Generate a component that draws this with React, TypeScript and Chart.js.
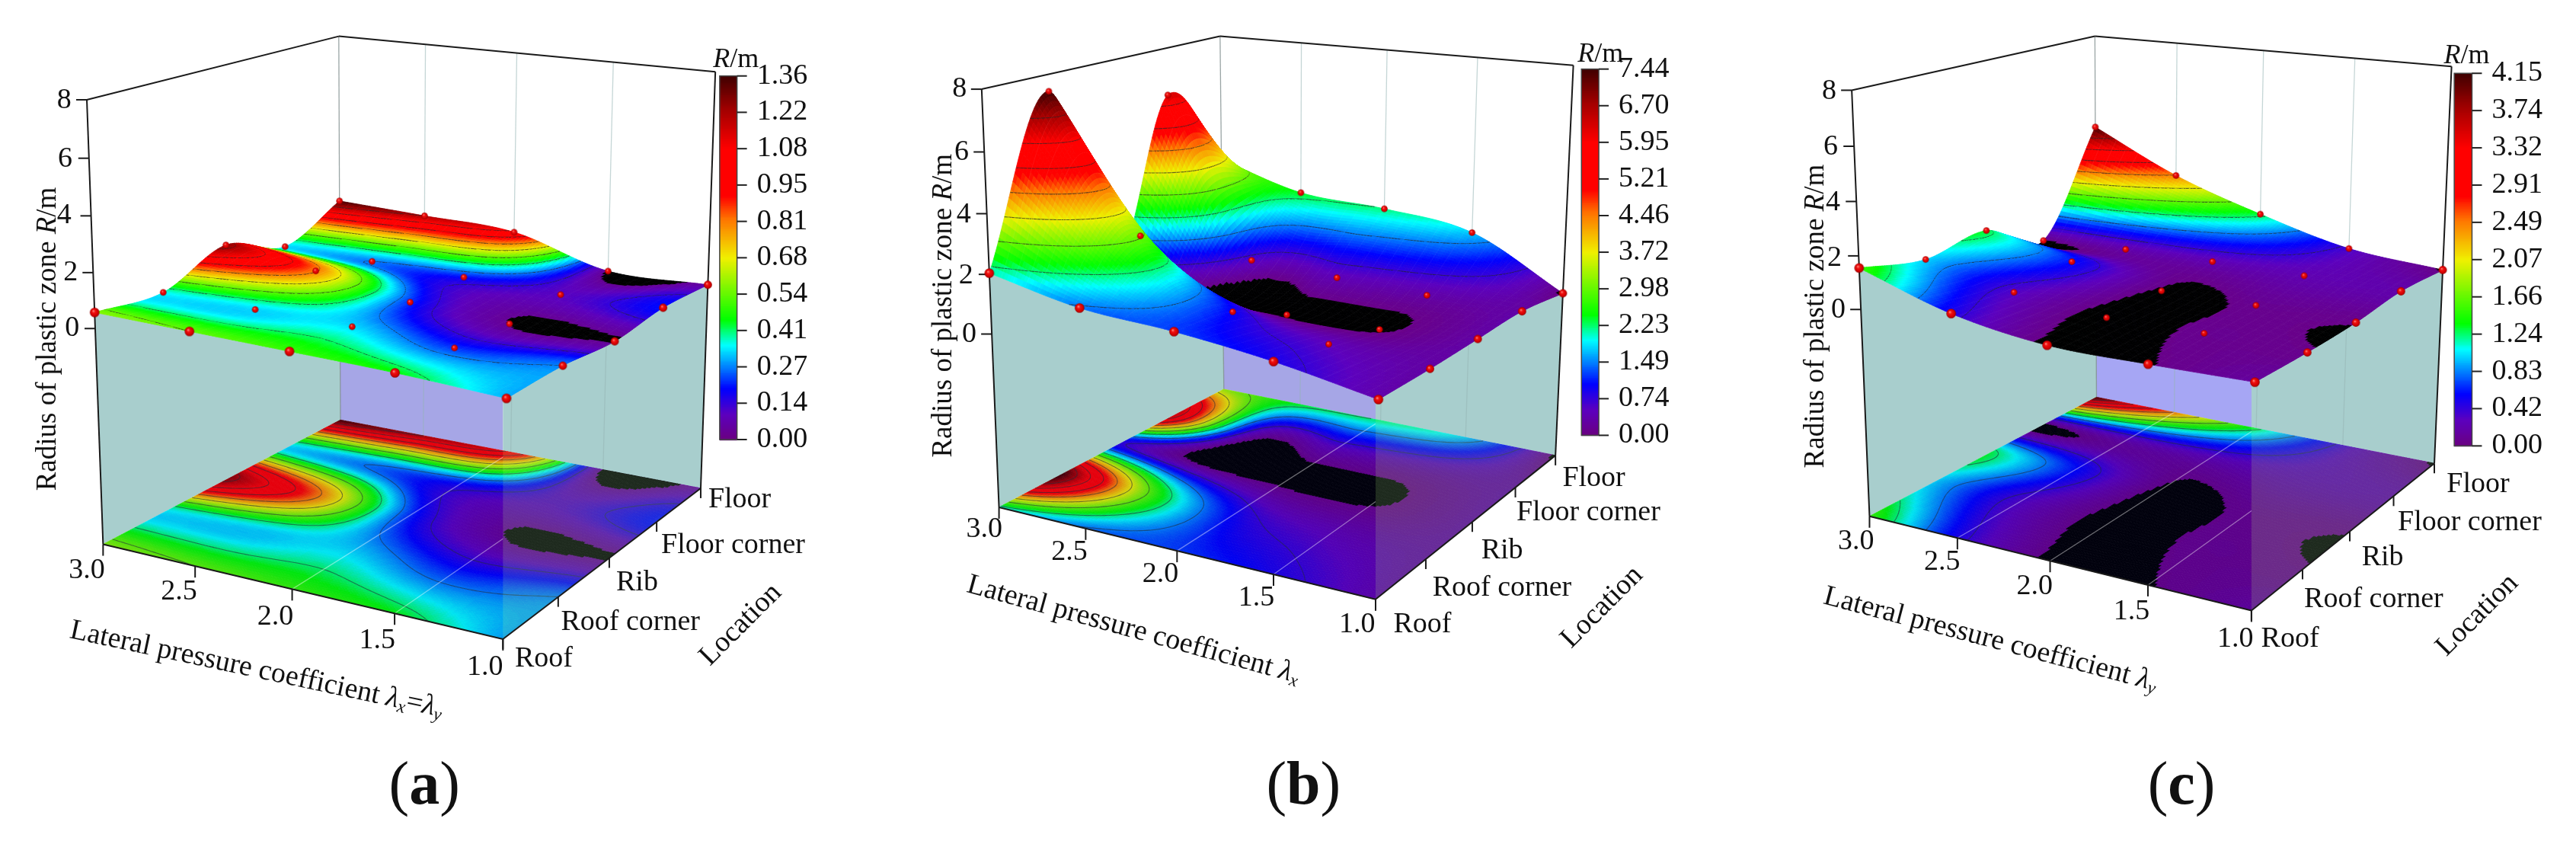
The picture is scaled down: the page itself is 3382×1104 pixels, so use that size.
import React, { useEffect, useRef } from "react";
import { Chart, registerables } from "chart.js";
Chart.register(...registerables);

const lambdaValues = [3.0, 2.5, 2.0, 1.5, 1.0];
const lambdaLabels = ["3.0", "2.5", "2.0", "1.5", "1.0"];
const locationLabels = ["Roof", "Roof corner", "Rib", "Floor corner", "Floor"];
const radiusTicks = ["8", "6", "4", "2", "0"];

// R (m) per location, columns follow lambdaValues
const a_roof = [0.58, 0.54, 0.5, 0.45, 0.3];
const a_roofCorner = [0.36, 0.33, 0.33, 0.22, 0.27];
const a_rib = [1.26, 0.82, 0.22, 0.032, 0.03];
const a_floorCorner = [0.33, 0.27, 0.2, 0.1, 0.2];
const a_floor = [1.36, 1.22, 1.05, 0.03, 0.05];

const b_roof = [2.04, 1.44, 1.25, 0.9, 0.35];
const b_roofCorner = [7.44, 3.03, 1.0, 0.5, 0.3];
const b_rib = [0.8, 0.0, 0.0, 0.05, 0.3];
const b_floorCorner = [6.3, 0.6, 0.45, 0.33, 0.3];
const b_floor = [3.3, 2.4, 2.2, 1.75, 0.02];

const c_roof = [1.55, 0.5, 0.02, 0.045, 0.14];
const c_roofCorner = [1.0, 0.33, 0.0, 0.072, 0.056];
const c_rib = [1.3, 0.6, 0.03, 0.078, 0.056];
const c_floorCorner = [0.04, 0.2, 0.24, 0.23, 0.2];
const c_floor = [4.15, 2.48, 1.3, 0.37, 0.03];

const a_colorTicks = ["1.36", "1.22", "1.08", "0.95", "0.81", "0.68", "0.54", "0.41", "0.27", "0.14", "0.00"];
const b_colorTicks = ["7.44", "6.70", "5.95", "5.21", "4.46", "3.72", "2.98", "2.23", "1.49", "0.74", "0.00"];
const c_colorTicks = ["4.15", "3.74", "3.32", "2.91", "2.49", "2.07", "1.66", "1.24", "0.83", "0.42", "0.00"];

type P2 = [number, number];
type Seg = { t: string; i?: boolean; b?: boolean; sub?: boolean };

const lam: Seg = { t: "\u03bb", i: true };
const rm: Seg[] = [{ t: "R", i: true }, { t: "/m" }];

const panels: any[] = [
  {
    left: 0, width: 1130, viewW: 1568, viewH: 1568, tag: "a",
    grid: [a_roof, a_roofCorner, a_rib, a_floorCorner, a_floor], ticks: a_colorTicks,
    zMin: -8, blackBelow: 0.034, hidden: [], floorLines: [2, 3],
    L: [180, 1018], F: [918, 1197], B: [618, 783], R: [1283, 912],
    LT: [150, 178], FT: [931, 295], BT: [615, 58], RT: [1310, 125],
    bar: [1318, 133, 1350, 820], rm: [1348, 103],
    lamPos: [[150, 1068], [320, 1108], [498, 1155], [686, 1200], [885, 1250]],
    locPos: [[940, 1235], [1025, 1165], [1127, 1090], [1210, 1020], [1297, 933]],
    zPos: [[108, 180], [110, 290], [108, 397], [120, 505], [123, 610]],
    zTitle: [78, 630], xTitle: [463, 1255, 12.0], locTitle: [1357, 1170],
    xSegs: [{ t: "Lateral pressure coefficient " }, lam, { t: "x", i: true, sub: true }, { t: "=" }, lam, { t: "y", i: true, sub: true }],
    cap: [773, 1478], lav: "#a6a6e6",
  },
  {
    left: 1130, width: 1130, viewW: 1568, viewH: 1568, tag: "b",
    grid: [b_roof, b_roofCorner, b_rib, b_floorCorner, b_floor], ticks: b_colorTicks,
    zMin: -6, blackBelow: 0.08, hidden: ["2,0", "2,1", "4,0"], floorLines: [2, 3],
    L: [245, 948], F: [940, 1122], B: [660, 725], R: [1272, 850],
    LT: [213, 158], FT: [952, 262], BT: [653, 58], RT: [1305, 113],
    bar: [1320, 120, 1352, 812], rm: [1355, 93],
    lamPos: [[218, 990], [375, 1033], [543, 1075], [720, 1120], [906, 1170]],
    locPos: [[973, 1170], [1045, 1100], [1135, 1030], [1200, 958], [1285, 893]],
    zPos: [[172, 158], [176, 278], [180, 395], [184, 510], [190, 622]],
    zTitle: [143, 567], xTitle: [493, 1180, 15.4], locTitle: [1358, 1137],
    xSegs: [{ t: "Lateral pressure coefficient " }, lam, { t: "x", i: true, sub: true }],
    cap: [807, 1478], lav: "#a6a6e6",
  },
  {
    left: 2260, width: 1122, viewW: 1568, viewH: 1568, tag: "c",
    grid: [c_roof, c_roofCorner, c_rib, c_floorCorner, c_floor], ticks: c_colorTicks,
    zMin: -8, blackBelow: 0.05, hidden: [], floorLines: [1, 2, 3],
    L: [265, 965], F: [975, 1143], B: [687, 740], R: [1315, 865],
    LT: [232, 160], FT: [988, 270], BT: [684, 58], RT: [1347, 115],
    bar: [1352, 128, 1385, 832], rm: [1375, 95],
    lamPos: [[240, 1013], [400, 1052], [572, 1098], [752, 1145], [945, 1197]],
    locPos: [[993, 1197], [1073, 1122], [1180, 1043], [1247, 977], [1338, 905]],
    zPos: [[190, 162], [193, 268], [197, 372], [200, 478], [207, 576]],
    zTitle: [165, 587], xTitle: [490, 1198, 14.7], locTitle: [1395, 1152],
    xSegs: [{ t: "Lateral pressure coefficient " }, lam, { t: "y", i: true, sub: true }],
    cap: [845, 1478], lav: "#a6a6f4",
  },
];

const warp = (t: number, r: number) => t / (t + (1 - t) * r);

function project(p: any, u: number, v: number, z: number): P2 {
  const a = warp(u, 1.115), b = warp(v, 0.86);
  const t = warp((z - p.zMin) / (8 - p.zMin), 1.06);
  const bil = (A: P2, Bb: P2, C: P2, D: P2, k: number) =>
    (1 - a) * (1 - b) * A[k] + a * (1 - b) * Bb[k] + (1 - a) * b * C[k] + a * b * D[k];
  const out: P2 = [0, 0];
  for (const k of [0, 1]) {
    const lo = bil(p.L, p.F, p.B, p.R, k);
    const hi = bil(p.LT, p.FT, p.BT, p.RT, k);
    out[k] = lo + (hi - lo) * t;
  }
  return out;
}

const stops: [number, number[]][] = [
  [0, [106, 0, 128]], [0.07, [92, 0, 190]], [0.14, [0, 0, 255]], [0.2, [0, 128, 255]],
  [0.26, [0, 255, 255]], [0.33, [0, 255, 0]], [0.5, [240, 240, 0]], [0.61, [255, 112, 0]],
  [0.67, [255, 0, 0]], [0.8, [255, 0, 0]], [0.91, [160, 0, 0]], [1, [64, 0, 0]],
];
const lut: string[] = [];
for (let i = 0; i <= 255; i++) {
  const f = i / 255;
  let s = 0;
  while (s < stops.length - 2 && f > stops[s + 1][0]) s++;
  const [f0, c0] = stops[s], [f1, c1] = stops[s + 1];
  const k = (f - f0) / (f1 - f0);
  lut.push(`rgb(${c0.map((c, j) => Math.round(c + (c1[j] - c) * k)).join(",")})`);
}

function cr(a: number, b: number, c: number, d: number, t: number) {
  return 0.5 * (2 * b + (c - a) * t + (2 * a - 5 * b + 4 * c - d) * t * t + (3 * b - a - 3 * c + d) * t * t * t);
}
function spl(arr: number[], x: number) {
  const n = arr.length;
  const i = Math.min(Math.floor(x), n - 2);
  const at = (k: number) => (k < 0 ? 2 * arr[0] - arr[1] : k >= n ? 2 * arr[n - 1] - arr[n - 2] : arr[k]);
  return cr(at(i - 1), at(i), at(i + 1), at(i + 2), x - i);
}

const N = 120;
function fineGrid(grid: number[][]) {
  const out: number[][] = [];
  for (let i = 0; i <= N; i++) {
    const x = (i / N) * 4;
    const col = grid.map((row) => spl(row, x));
    const line: number[] = [];
    for (let j = 0; j <= N; j++) line.push(spl(col, (j / N) * 4));
    out.push(line);
  }
  return out;
}

function quadContours(ctx: any, q: P2[], vals: number[], levels: number[]) {
  const lo = Math.min(...vals), hi = Math.max(...vals);
  for (const lv of levels) {
    if (lv <= lo || lv >= hi) continue;
    const pts: P2[] = [];
    for (let e = 0; e < 4; e++) {
      const a = vals[e], b = vals[(e + 1) % 4];
      if ((a < lv) !== (b < lv)) {
        const k = (lv - a) / (b - a);
        pts.push([q[e][0] + (q[(e + 1) % 4][0] - q[e][0]) * k, q[e][1] + (q[(e + 1) % 4][1] - q[e][1]) * k]);
      }
    }
    for (let s = 0; s + 1 < pts.length; s += 2) {
      ctx.beginPath();
      ctx.moveTo(pts[s][0], pts[s][1]);
      ctx.lineTo(pts[s + 1][0], pts[s + 1][1]);
      ctx.stroke();
    }
  }
}

function rich(ctx: any, segs: Seg[], x: number, y: number, size: number, angle = 0, align = "center") {
  const font = (s: Seg) => `${s.i ? "italic " : ""}${s.b ? "bold " : ""}${s.sub ? size * 0.62 : size}px "Liberation Serif"`;
  let w = 0;
  for (const s of segs) {
    ctx.font = font(s);
    w += ctx.measureText(s.t).width;
  }
  ctx.save();
  ctx.translate(x, y);
  ctx.rotate((angle * Math.PI) / 180);
  ctx.textBaseline = "middle";
  ctx.textAlign = "left";
  ctx.fillStyle = "#111";
  let cx = align === "center" ? -w / 2 : align === "right" ? -w : 0;
  for (const s of segs) {
    ctx.font = font(s);
    ctx.fillText(s.t, cx, s.sub ? size * 0.24 : 0);
    cx += ctx.measureText(s.t).width;
  }
  ctx.restore();
}

function surfacePlugin(p: any) {
  const fine = fineGrid(p.grid);
  const vmax = parseFloat(p.ticks[0]);
  const levels = p.ticks.map((t: string) => parseFloat(t)).filter((v: number) => v > 0 && v < vmax);
  const colorOf = (v: number) =>
    v < p.blackBelow ? "#000" : lut[Math.max(0, Math.min(255, Math.round((v / vmax) * 255)))];
  return {
    id: "surface" + p.tag,
    beforeDatasetsDraw(chart: any) {
      const ctx = chart.ctx;
      const sx = chart.scales.x, sy = chart.scales.y;
      const px = (q: P2): P2 => [sx.getPixelForValue(q[0]), sy.getPixelForValue(q[1])];
      const P = (u: number, v: number, z: number) => px(project(p, u, v, z));
      const poly = (pts: P2[], fill: string) => {
        ctx.beginPath();
        pts.forEach((q, i) => (i ? ctx.lineTo(q[0], q[1]) : ctx.moveTo(q[0], q[1])));
        ctx.closePath();
        ctx.fillStyle = fill;
        ctx.fill();
      };
      const seg = (a: P2, b: P2, col: string, w: number) => {
        ctx.strokeStyle = col;
        ctx.lineWidth = w;
        ctx.beginPath();
        ctx.moveTo(a[0], a[1]);
        ctx.lineTo(b[0], b[1]);
        ctx.stroke();
      };
      const frontX = px(p.F)[0];
      ctx.save();

      // walls
      const leftWall: P2[] = [], floorWall: P2[] = [];
      for (let j = 0; j <= N; j++) leftWall.push(P(0, j / N, fine[0][j]));
      leftWall.push(P(0, 1, p.zMin), P(0, 0, p.zMin));
      for (let i = 0; i <= N; i++) floorWall.push(P(i / N, 1, fine[i][N]));
      floorWall.push(P(1, 1, p.zMin), P(0, 1, p.zMin));
      const H = chart.height, W = chart.width;
      ctx.save();
      ctx.beginPath();
      ctx.rect(0, 0, frontX, H);
      ctx.clip();
      poly(floorWall, p.lav);
      ctx.restore();
      ctx.save();
      ctx.beginPath();
      ctx.rect(frontX, 0, W - frontX, H);
      ctx.clip();
      poly(floorWall, "#a8cecd");
      ctx.restore();
      poly(leftWall, "#a8cecd");

      // wall grid lines
      seg(px(p.B), px(p.BT), "rgba(120,135,135,0.75)", 1.3);
      for (const u of [0.25, 0.5, 0.75]) seg(P(u, 1, p.zMin), P(u, 1, 8), "rgba(150,180,180,0.55)", 1.3);

      // projection on the floor
      const floorQuad = (i: number, j: number): P2[] => [
        P(i / N, j / N, p.zMin), P((i + 1) / N, j / N, p.zMin),
        P((i + 1) / N, (j + 1) / N, p.zMin), P(i / N, (j + 1) / N, p.zMin),
      ];
      for (let i = 0; i < N; i++)
        for (let j = 0; j < N; j++) {
          const v = (fine[i][j] + fine[i + 1][j] + fine[i + 1][j + 1] + fine[i][j + 1]) / 4;
          const c = colorOf(v);
          const q = floorQuad(i, j);
          poly(q, c);
          ctx.strokeStyle = c;
          ctx.lineWidth = 0.8;
          ctx.stroke();
        }
      ctx.strokeStyle = "rgba(40,50,50,0.6)";
      ctx.lineWidth = 1.1;
      for (let i = 0; i < N; i++)
        for (let j = 0; j < N; j++)
          quadContours(ctx, floorQuad(i, j), [fine[i][j], fine[i + 1][j], fine[i + 1][j + 1], fine[i][j + 1]], levels);

      // tint from the transparent sides, over the floor only
      ctx.save();
      ctx.beginPath();
      [P(0, 0, p.zMin), P(1, 0, p.zMin), P(1, 1, p.zMin), P(0, 1, p.zMin)].forEach((q, i) =>
        i ? ctx.lineTo(q[0], q[1]) : ctx.moveTo(q[0], q[1]));
      ctx.closePath();
      ctx.clip();
      ctx.fillStyle = "rgba(0,0,120,0.1)";
      ctx.fillRect(0, 0, frontX, H);
      ctx.fillStyle = "rgba(120,170,120,0.24)";
      ctx.fillRect(frontX, 0, W - frontX, H);
      for (const k of p.floorLines) {
        ctx.save();
        ctx.beginPath();
        ctx.rect(0, 0, frontX, H);
        ctx.clip();
        seg(P(k / 4, 0, p.zMin), P(k / 4, 1, p.zMin), "rgba(255,255,255,0.42)", 1.3);
        ctx.restore();
      }
      ctx.restore();

      // surface, far to near
      for (let i = 0; i < N; i++)
        for (let j = N - 1; j >= 0; j--) {
          const vals = [fine[i][j], fine[i + 1][j], fine[i + 1][j + 1], fine[i][j + 1]];
          const q: P2[] = [
            P(i / N, j / N, vals[0]), P((i + 1) / N, j / N, vals[1]),
            P((i + 1) / N, (j + 1) / N, vals[2]), P(i / N, (j + 1) / N, vals[3]),
          ];
          const c = colorOf((vals[0] + vals[1] + vals[2] + vals[3]) / 4);
          poly(q, c);
          ctx.strokeStyle = c;
          ctx.lineWidth = 0.8;
          ctx.stroke();
          if (i % 4 === 0) seg(q[0], q[3], "rgba(255,255,255,0.07)", 0.8);
          if (j % 4 === 0) seg(q[0], q[1], "rgba(255,255,255,0.07)", 0.8);
          ctx.strokeStyle = "rgba(40,40,40,0.7)";
          ctx.lineWidth = 1.1;
          quadContours(ctx, q, vals, levels);
        }

      // frame
      const ink = "#1a1a1a";
      seg(px(p.L), px(p.LT), ink, 2);
      seg(px(p.LT), px(p.BT), ink, 2);
      seg(px(p.BT), px(p.RT), ink, 2);
      seg(px(p.RT), px(p.R), ink, 2);
      seg(px(p.L), px(p.F), ink, 2);
      seg(px(p.F), px(p.R), ink, 2);
      lambdaValues.forEach((_, k) => {
        const a = P(k / 4, 0, p.zMin);
        seg(a, [a[0], a[1] + 15], ink, 2);
      });
      locationLabels.forEach((_, k) => {
        const a = P(1, k / 4, p.zMin);
        seg(a, [a[0], a[1] + 13], ink, 2);
      });
      radiusTicks.forEach((t) => {
        const a = P(0, 0, parseFloat(t));
        seg(a, [a[0] - 14, a[1]], ink, 2);
      });
      ctx.restore();
    },
    afterDraw(chart: any) {
      const ctx = chart.ctx;
      const sx = chart.scales.x, sy = chart.scales.y;
      const X = (v: number) => sx.getPixelForValue(v), Y = (v: number) => sy.getPixelForValue(v);
      const [bx0, by0, bx1, by1] = p.bar;
      ctx.save();
      const yTop = Y(by0), yBot = Y(by1), xa = X(bx0), xb = X(bx1);
      for (let y = Math.floor(yTop); y < yBot; y++) {
        ctx.fillStyle = lut[Math.round((1 - (y - yTop) / (yBot - yTop)) * 255)] || lut[0];
        ctx.fillRect(xa, y, xb - xa, 1.2);
      }
      ctx.strokeStyle = "#444";
      ctx.lineWidth = 1.5;
      ctx.strokeRect(xa, yTop, xb - xa, yBot - yTop);
      p.ticks.forEach((t: string, i: number) => {
        const y = yTop + ((yBot - yTop) * i) / (p.ticks.length - 1);
        ctx.strokeStyle = "#222";
        ctx.lineWidth = 2;
        ctx.beginPath();
        ctx.moveTo(xb, y);
        ctx.lineTo(xb + 13, y);
        ctx.stroke();
        rich(ctx, [{ t }], xb + 26, y, 38, 0, "left");
      });
      rich(ctx, rm, X(p.rm[0]), Y(p.rm[1]), 36);
      radiusTicks.forEach((t, i) => rich(ctx, [{ t }], X(p.zPos[i][0]), Y(p.zPos[i][1]), 38));
      lambdaLabels.forEach((t, i) => rich(ctx, [{ t }], X(p.lamPos[i][0]), Y(p.lamPos[i][1]), 38));
      locationLabels.forEach((t, i) => rich(ctx, [{ t }], X(p.locPos[i][0]), Y(p.locPos[i][1]), 38, 0, "left"));
      rich(ctx, [{ t: "Radius of plastic zone " }, { t: "R", i: true }, { t: "/m" }], X(p.zTitle[0]), Y(p.zTitle[1]), 37, -90);
      rich(ctx, p.xSegs, X(p.xTitle[0]), Y(p.xTitle[1]), 38, p.xTitle[2]);
      rich(ctx, [{ t: "Location" }], X(p.locTitle[0]), Y(p.locTitle[1]), 38, -45);
      rich(ctx, [{ t: "(" }, { t: p.tag, b: true }, { t: ")" }], X(p.cap[0]), Y(p.cap[1]), 80);
      ctx.restore();
    },
  };
}

function ballSprite(r: number) {
  const c = document.createElement("canvas");
  const s = Math.ceil(r * 2 + 2);
  c.width = s;
  c.height = s;
  const g = c.getContext("2d")!;
  const m = s / 2;
  const gr = g.createRadialGradient(m - r * 0.3, m - r * 0.35, 0, m, m, r);
  gr.addColorStop(0, "#ff9c8c");
  gr.addColorStop(0.35, "#f01010");
  gr.addColorStop(0.8, "#d00000");
  gr.addColorStop(1, "#8a0000");
  g.fillStyle = gr;
  g.beginPath();
  g.arc(m, m, r, 0, Math.PI * 2);
  g.fill();
  return c;
}

function Panel({ p }: { p: any }) {
  const ref = useRef<HTMLCanvasElement>(null);
  useEffect(() => {
    document.body.style.margin = "0";
    const canvas = ref.current!;
    const sprites: Record<string, HTMLCanvasElement> = {};
    const points: any[] = [];
    p.grid.forEach((row: number[], r: number) =>
      row.forEach((val: number, c: number) => {
        if (p.hidden.includes(`${r},${c}`)) return;
        const q = project(p, c / 4, r / 4, val);
        const rad = r === 0 ? 6.3 : c === 4 ? 5.4 : 4.3;
        sprites[rad] = sprites[rad] || ballSprite(rad);
        points.push({ x: q[0], y: q[1], r: rad });
      })
    );
    const chart = new Chart(canvas, {
      type: "scatter",
      data: {
        datasets: [
          {
            data: points,
            pointRadius: (ctx: any) => ctx.raw?.r ?? 4,
            pointStyle: (ctx: any) => (ctx.raw ? sprites[ctx.raw.r] : "circle"),
          },
        ],
      },
      options: {
        animation: false,
        responsive: false,
        maintainAspectRatio: false,
        devicePixelRatio: 1,
        layout: { padding: 0 },
        plugins: { legend: { display: false }, title: { display: false }, tooltip: { enabled: false } },
        scales: {
          x: { type: "linear", display: false, min: 0, max: p.viewW },
          y: { type: "linear", display: false, min: 0, max: p.viewH, reverse: true },
        },
      },
      plugins: [surfacePlugin(p)],
    } as any);
    return () => chart.destroy();
  }, [p]);
  return (
    <canvas
      ref={ref}
      width={p.width}
      height={1104}
      style={{ position: "absolute", left: p.left, top: 0, width: p.width, height: 1104 }}
    />
  );
}

export default function App() {
  return (
    <div style={{ position: "absolute", left: 0, top: 0, width: 3382, height: 1104, background: "#fff", overflow: "hidden" }}>
      {panels.map((p) => (
        <Panel key={p.tag} p={p} />
      ))}
    </div>
  );
}
